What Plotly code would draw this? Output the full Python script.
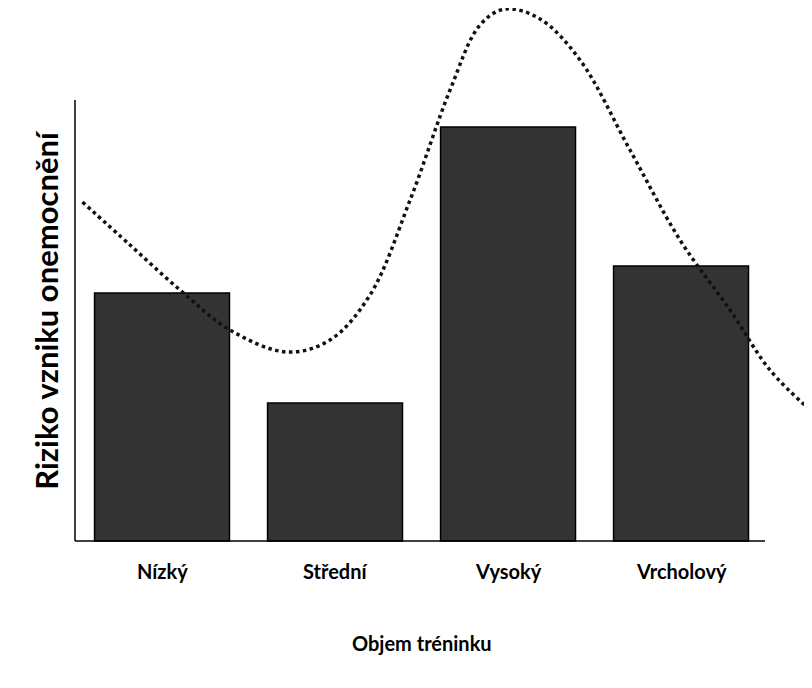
import plotly.graph_objects as go

categories = ["Nízký", "Střední", "Vysoký", "Vrcholový"]
bar_values = [248, 138, 414, 275]

# dotted trend curve (category position, value)
curve_x = [-0.46, -0.185, 0.104, 0.393, 0.723, 0.971, 1.202, 1.434, 1.665, 1.838,
           1.983, 2.185, 2.416, 2.705, 2.994, 3.283, 3.514, 3.746]
curve_y = [339, 296, 251, 211, 189, 201, 246, 341, 451, 516,
           532, 522, 481, 391, 301, 231, 171, 131]

font = "Lato"

fig = go.Figure()
fig.add_trace(go.Bar(x=list(range(len(categories))), y=bar_values, width=0.78,
                     marker=dict(color="#333333", line=dict(color="black", width=1.5))))
fig.add_trace(go.Scatter(x=curve_x, y=curve_y, mode="lines",
                         line=dict(shape="spline", smoothing=1.0, dash="dot", width=3.5, color="#111")))

for i, c in enumerate(categories):
    fig.add_annotation(x=i, yref="paper", y=-0.0665, text="<b>" + c + "</b>", showarrow=False,
                       font=dict(size=20, color="black", family=font))
fig.add_annotation(x=1.5, yref="paper", y=-0.2, text="<b>Objem tréninku</b>", showarrow=False,
                   font=dict(size=20, color="black", family=font))
fig.add_annotation(xref="paper", x=-0.068, yref="paper", y=0.442, text="<b>Riziko vzniku onemocnění</b>",
                   textangle=-90, showarrow=False, font=dict(size=31, color="black", family=font))

fig.add_shape(type="line", xref="paper", x0=0, x1=0, y0=0, y1=441, line=dict(color="black", width=1.5))
fig.add_shape(type="line", xref="paper", x0=0, x1=(765 - 75) / 737, y0=0, y1=0,
              line=dict(color="black", width=1.5))

fig.update_layout(
    width=804, height=680, margin=dict(l=67, r=0, t=0, b=139),
    plot_bgcolor="white", paper_bgcolor="white", showlegend=False,
    xaxis=dict(range=[-0.503, 3.757], visible=False),
    yaxis=dict(range=[-8, 533], visible=False),
)
fig.write_html("out.html")
